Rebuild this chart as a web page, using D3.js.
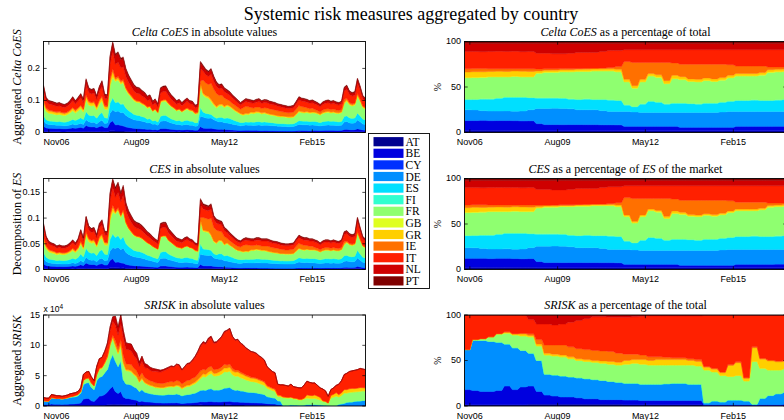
<!DOCTYPE html>
<html><head><meta charset="utf-8">
<script src="https://cdn.jsdelivr.net/npm/d3@7"></script>
<style>
body{margin:0;background:#fff;}
svg{display:block;}
.serif{font-family:"Liberation Serif","Times New Roman",serif;fill:#000;}
.sans{font-family:"Liberation Sans",Arial,sans-serif;fill:#000;}
</style></head>
<body><svg id="chart" width="784" height="420"></svg>
<script>
// ---------- categories ----------
const countries = ["AT","BE","CY","DE","ES","FI","FR","GB","GR","IE","IT","NL","PT"];
const colors = ["#00008f","#0000df","#0030ff","#008fff","#00dfff","#30ffcf","#8fff70","#dfff20","#ffcf00","#ff7000","#ff2000","#cf0000","#800000"];
const xTickLabels = ["Nov06","Aug09","May12","Feb15"];
const xTickDates = [new Date(2006,10,1), new Date(2009,7,1), new Date(2012,4,1), new Date(2015,1,1)];

// ---------- monthly totals (Sep 2006 .. Oct 2016) ----------
const coesTotal = [.148,.110,.100,.098,.095,.092,.094,.090,.088,.092,
 .100,.112,.100,.110,.122,.105,.168,.140,.135,.138,
 .115,.145,.162,.120,.118,.240,.284,.245,.252,.232,
 .236,.200,.180,.165,.150,.142,.140,.132,.126,.114,
 .118,.098,.105,.090,.140,.145,.146,.130,.118,.110,
 .100,.104,.094,.102,.108,.100,.098,.086,.088,.222,
 .210,.198,.192,.200,.176,.158,.150,.152,.140,.134,
 .128,.118,.110,.102,.094,.100,.106,.104,.102,.100,
 .104,.106,.100,.103,.102,.098,.096,.094,.090,.088,
 .086,.084,.082,.083,.085,.098,.112,.108,.106,.104,
 .100,.102,.098,.094,.088,.096,.100,.102,.098,.100,
 .096,.094,.098,.142,.148,.130,.125,.128,.170,.145,
 .115,.108];
const cesTotal = [.090,.065,.055,.052,.050,.046,.048,.046,.046,.048,
 .052,.058,.052,.060,.078,.062,.104,.085,.080,.082,
 .068,.090,.097,.075,.074,.150,.177,.160,.170,.150,
 .164,.130,.115,.105,.096,.092,.090,.086,.080,.074,
 .070,.064,.060,.056,.090,.092,.092,.080,.074,.068,
 .062,.060,.058,.062,.064,.060,.058,.052,.050,.138,
 .128,.126,.124,.128,.105,.098,.096,.094,.082,.078,
 .072,.067,.062,.058,.056,.060,.062,.061,.060,.060,
 .062,.062,.060,.060,.060,.058,.056,.055,.054,.052,
 .051,.050,.050,.051,.052,.060,.067,.064,.062,.062,
 .060,.060,.058,.056,.052,.056,.058,.058,.056,.058,
 .056,.055,.058,.074,.076,.070,.068,.070,.102,.082,
 .064,.060];
// SRISK in units of 10^4
const sriskTotal = [1.4,1.3,1.3,1.9,1.8,1.7,1.7,1.6,1.7,1.8,
 2.0,2.1,2.2,2.4,3.0,5.2,5.6,5.7,4.8,4.2,
 6.5,7.8,8.0,9.0,10.4,13.0,14.7,14.8,13.0,15.0,
 12.5,10.4,10.3,10.2,9.3,8.7,7.2,8.2,7.0,6.8,
 6.4,6.2,6.1,6.0,5.9,6.0,6.2,6.4,6.6,6.5,
 6.9,6.8,6.0,6.5,7.0,7.1,7.6,8.2,9.0,10.0,
 10.6,10.4,11.2,11.5,10.5,10.6,11.0,11.5,12.3,12.5,
 12.8,11.5,10.9,11.0,10.4,10.1,9.6,9.3,9.0,8.9,
 8.7,8.3,8.0,7.6,6.5,6.1,5.7,5.5,3.6,3.5,
 3.5,3.4,3.3,3.6,3.2,3.1,3.0,3.0,3.5,4.1,
 3.9,3.8,3.8,3.4,3.0,2.8,2.5,1.6,2.7,3.0,
 3.4,3.6,4.2,5.2,5.4,5.7,5.8,5.9,6.0,6.2,
 6.1,6.0];

// ---------- quarterly country shares (%) ----------
// Celta CoES
const coesAT = [2.2,2.2,2.1,2.2,2.2,2.3,2.2,2.2,2.2,2.0,2.0,2.0,2.0,2.0,2.0,2.0,1.9,1.9,1.9,1.9,1.8,1.8,1.8,1.8,1.8,1.8,1.8,1.8,1.8,1.8,1.8,1.8,1.8,1.8,1.8,1.8,1.8,1.8,1.8,1.8,1.8];
const coesBE = [10.8,10.8,11.0,10.6,10.8,10.7,10.6,10.4,10.5,7.5,6.5,6.5,6.4,6.5,6.5,6.4,6.5,6.4,6.4,6.3,4.7,4.7,4.7,4.7,4.7,4.7,4.7,3.7,3.7,3.7,3.7,3.7,3.7,3.7,4.7,4.7,4.7,4.7,4.7,4.9,4.9];
const coesCY = [.3,.3,.3,.3,.3,.3,.3,.3,.3,.3,.3,.3,.3,.3,.3,.3,.3,.3,.3,.3,.3,.3,.3,.3,.3,.3,.3,.3,.3,.3,.3,.3,.3,.3,.3,.3,.3,.3,.3,.3,.3];
const coesDE = [11.7,11.5,10.6,10.4,10.2,10.4,10.2,10.6,12.0,16.7,17.7,17.9,17.8,17.2,16.2,16.3,16.3,15.4,14.4,14.5,16.2,15.7,15.2,15.2,15.2,15.2,15.2,16.2,16.2,16.2,16.2,16.2,16.7,17.2,16.2,16.2,16.2,16.2,16.2,16.0,16.0];
const coesES = [11,11.3,12.5,13,14,14.8,15.2,15,13,11.2,11.2,11,11,10.5,11,11.5,11,12,12.5,12,7,5.5,9,12,11,9,10,10,9.5,9,10,10,10.5,11,12,12,12.5,12,12,12.5,13];
const coesFI = [.5,.5,.5,.5,.5,.5,.5,.5,.5,.5,.5,.5,.5,.5,.5,.5,.5,.5,.5,.5,.5,.5,.5,.5,.5,.5,.5,.5,.5,.5,.5,.5,.5,.5,.5,.5,.5,.5,.5,.5,.5];
const coesFR = [23.5,23.6,23.5,24,23,22,22.5,22,22.5,26.8,27.8,27.8,28.5,29.5,30.5,30,31,31,31.5,31,25,20,24,27.5,27,22,26.5,25.5,24,24,24.5,23.5,24,25.5,26.5,26.5,26,27.5,30.5,30.5,30.5];
const coesGB = [.4,.4,.4,.4,.4,.4,.4,.4,.4,.4,.4,.4,.4,.4,.4,.4,.4,.4,.4,.4,.4,.4,.4,.4,.4,.4,.4,.4,.4,.4,.4,.4,.4,.4,.4,.4,.4,.4,.4,.4,.4];
const coesGR = [6,6.2,5.8,5.6,5.8,5.6,5.6,5.8,5.6,2.2,2,2.1,2,2,2,2.2,2,2.1,2.1,2.5,2.5,2.5,2.5,2.5,2.5,3,3.5,3,2.5,2.5,2.5,2.5,2.5,2.5,2.5,2.5,2.5,2.5,2.5,2.5,2.5];
const coesIE = [3.6,3.4,3.5,3,2.8,3,2.5,2.8,3,2.2,1.6,1.5,1.3,1.3,1,1,1,1,1.5,3,19.6,25.6,18.6,12.1,13.6,20.1,13.6,13.6,16.1,16.6,15.1,16.1,14.6,11.6,8.1,8.1,8.1,7.1,3.1,2.6,2.1];
const coesIT = [19,18.8,18.6,19,19.2,19,19.2,18.8,19,17.2,17,16.5,16.3,16.8,17.6,17.4,17.1,18,18.5,17.6,13,14,14,14,14,14,14.5,16,16,16,16,16,16,16.5,18,18,18,18,19,19,19];
const coesNL = [9,9,9.2,9,8.8,9,8.8,9.2,9,11,11,11.5,11.5,11,10,10,10,9,8,8,7,7,7,7,7,7,7,7,7,7,7,7,7,7,7,7,7,7,7,7,7];
const coesPT = [2,2,2,2,2,2,2,2,2,2,2,2,2,2,2,2,2,2,2,2,2,2,2,2,2,2,2,2,2,2,2,2,2,2,2,2,2,2,2,2,2];
// CES
const cesAT = [2.2,2.2,2.1,2.2,2.2,2.3,2.2,2.2,2.2,2.0,2.0,2.0,2.0,2.0,2.0,2.0,1.9,1.9,1.9,1.9,1.8,1.8,1.8,1.8,1.8,1.8,1.8,1.8,1.8,1.8,1.8,1.8,1.8,1.8,1.8,1.8,1.8,1.8,1.8,1.8,1.8];
const cesBE = [9.8,9.8,10.0,9.6,9.8,9.7,9.6,9.4,9.5,6.5,5.5,5.5,5.4,5.5,5.5,5.4,5.5,5.4,5.4,5.3,3.7,3.7,3.7,3.7,3.7,3.7,3.7,2.7,2.7,2.7,2.7,2.7,2.7,2.7,3.7,3.7,3.7,3.7,3.7,3.9,3.9];
const cesCY = [.3,.3,.3,.3,.3,.3,.3,.3,.3,.3,.3,.3,.3,.3,.3,.3,.3,.3,.3,.3,.3,.3,.3,.3,.3,.3,.3,.3,.3,.3,.3,.3,.3,.3,.3,.3,.3,.3,.3,.3,.3];
const cesDE = [11.7,11.5,10.6,10.4,10.2,10.4,10.2,10.6,12.0,16.7,17.7,17.9,17.8,17.2,16.2,16.3,16.3,15.4,14.4,14.5,16.2,15.7,15.2,15.2,15.2,15.2,15.2,16.2,16.2,16.2,16.2,16.2,16.7,17.2,16.2,16.2,16.2,16.2,16.2,16.0,16.0];
const cesES = [13,13.3,14.5,15,16,16.8,17.2,17,15,13.2,13.2,13,13,12.5,13,13.5,13,14,14.5,14,9,7.5,11,14,13,11,12,12,11.5,11,12,12,12.5,13,14,14,14.5,14,14,14.5,15];
const cesFI = [.5,.5,.5,.5,.5,.5,.5,.5,.5,.5,.5,.5,.5,.5,.5,.5,.5,.5,.5,.5,.5,.5,.5,.5,.5,.5,.5,.5,.5,.5,.5,.5,.5,.5,.5,.5,.5,.5,.5,.5,.5];
const cesFR = [25,25.1,25,25.5,24.5,23.5,24,23.5,24,28.3,29.3,29.3,30,31,32,31.5,32.5,32.5,33,32.5,26.5,21.5,25.5,29,28.5,23.5,28,27,25.5,25.5,26,25,25.5,27,28,28,27.5,29,32,32,32];
const cesGB = [.4,.4,.4,.4,.4,.4,.4,.4,.4,.4,.4,.4,.4,.4,.4,.4,.4,.4,.4,.4,.4,.4,.4,.4,.4,.4,.4,.4,.4,.4,.4,.4,.4,.4,.4,.4,.4,.4,.4,.4,.4];
const cesGR = [5,5.2,4.8,4.6,4.8,4.6,4.6,4.8,4.6,1.2,1,1.1,1,1,1,1.2,1,1.1,1.1,1.5,1.5,1.5,1.5,1.5,1.5,2,2.5,2,1.5,1.5,1.5,1.5,1.5,1.5,1.5,1.5,1.5,1.5,1.5,1.5,1.5];
const cesIE = [3.1,2.9,3,2.5,2.3,2.5,2,2.3,2.5,1.7,1.1,1,.8,.8,.5,.5,.5,.5,1,2.5,19.1,25.1,18.1,11.6,13.1,19.6,13.1,13.1,15.6,16.1,14.6,15.6,14.1,11.1,7.6,7.6,7.6,6.6,2.6,2.1,1.6];
const cesIT = [19,18.8,18.6,19,19.2,19,19.2,18.8,19,17.2,17,16.5,16.3,16.8,17.6,17.4,17.1,18,18.5,17.6,13,14,14,14,14,14,14.5,16,16,16,16,16,16,16.5,18,18,18,18,19,19,19];
const cesNL = [8,8,8.2,8,7.8,8,7.8,8.2,8,10,10,10.5,10.5,10,9,9,9,8,7,7,6,6,6,6,6,6,6,6,6,6,6,6,6,6,6,6,6,6,6,6,6];
const cesPT = [2,2,2,2,2,2,2,2,2,2,2,2,2,2,2,2,2,2,2,2,2,2,2,2,2,2,2,2,2,2,2,2,2,2,2,2,2,2,2,2,2];
// SRISK
const sriskAT = [1.5,1.5,1.5,1.5,1.5,1.5,1.5,1.5,2,2,2,2,2,2,2,2,2,2,2,2,1.5,1.5,1.5,1.5,1.5,1.5,1.5,1.5,1.5,1.5,.5,.5,.5,.5,.5,.5,.5,.5,.5,.5,.5];
const sriskBE = [16.5,15.5,14.5,14.5,15.5,20.5,16.5,19.5,20,14,10,9,8,8,7,6,6,5,5,5,5,5,4.5,4.5,4.5,4.5,4.5,4.5,4.5,4.5,1,1,1,1,1,1,.5,1,1,1,1.5];
const sriskCY = [0,0,0,0,0,0,0,0,0,0,0,0,0,0,0,0,0,0,0,0,0,0,0,0,0,0,0,0,0,0,0,0,0,0,0,0,0,0,0,0,0];
const sriskDE = [44,55,56,55,53,46,46,40,36,34,23,23,23,22,22,22,21,21,20,19,18.5,18.5,18,18,18,18.5,19,19,18,18,2,4,3,5,5,4,1,7,10,12,13];
const sriskES = [0,0,0,0,0,0,0,0,0,0,0,0,0,0,0,0,0,0,0,0,0,0,0,0,0,0,0,0,0,0,0,0,0,0,0,0,0,0,0,0,0];
const sriskFI = [0,0,0,0,0,0,0,0,0,0,0,0,0,0,0,0,0,0,0,0,0,0,0,0,0,0,0,0,0,0,0,0,0,0,0,0,0,0,0,0,0];
const sriskFR = [0,1,2,5,9,12,14,16,18,16,21,21,21,20,19,19,19,19,19,19,21,22,22,21,21,20.5,20,20,21,20,36,32,29,26,27,22,47,33,28,26,26];
const sriskGB = [0,0,0,0,0,0,0,0,0,0,0,0,0,0,0,0,0,0,0,0,0,0,0,0,0,0,0,0,0,0,0,0,0,0,0,0,0,0,0,0,0];
const sriskGR = [0,0,0,0,.5,1,1,2,1.5,2,2,2,2,2,2,2,2,2.5,3,3,4,4,5,5,6,6,6,6,5,5,3,3,3,12,14,3,15,10,10,9,8];
const sriskIE = [0,0,0,0,0,.5,.5,1,2,5,9,10,11,11,11,11,11,11,11,10,7,6,5,4,3,2.5,2,2,2,2,1,1,1,1,1,.5,1,1,1,1,1];
const sriskIT = [38,27,26,24,20.5,18.5,20.5,20,15.5,17,23,22,23,27,31,34,37,37.5,37.5,39.5,40.5,41,42.5,45,45,45.5,46,46,47,48,56,58,62,54,51,68.5,34.5,47,49,50,49.5];
const sriskNL = [0,0,0,0,0,0,0,0,5,10,10,11,10,8,6,4,2,2,2.5,2.5,2.5,2,1.5,1,1,1,1,1,1,1,.5,.5,.5,.5,.5,.5,.5,.5,.5,.5,.5];
const sriskPT = [0,0,0,0,0,0,0,0,0,0,0,0,0,0,0,0,0,0,0,0,0,0,0,0,0,0,0,0,0,0,0,0,0,0,0,0,0,0,0,0,0];

const coesShares = [coesAT,coesBE,coesCY,coesDE,coesES,coesFI,coesFR,coesGB,coesGR,coesIE,coesIT,coesNL,coesPT];
const cesShares = [cesAT,cesBE,cesCY,cesDE,cesES,cesFI,cesFR,cesGB,cesGR,cesIE,cesIT,cesNL,cesPT];
const sriskShares = [sriskAT,sriskBE,sriskCY,sriskDE,sriskES,sriskFI,sriskFR,sriskGB,sriskGR,sriskIE,sriskIT,sriskNL,sriskPT];

// ---------- build tables ----------
const months = d3.range(coesTotal.length).map(m => new Date(2006, 8 + m, 1));
function buildRows(total, shares, percent) {
  return total.map((t, m) => {
    const q = Math.min(Math.floor(m / 3), shares[0].length - 1);
    const s = shares.map(a => a[q]);
    const sum = d3.sum(s);
    const row = {date: months[m]};
    countries.forEach((c, i) => row[c] = (percent ? 100 : t) * s[i] / sum);
    return row;
  });
}

// ---------- layout ----------
const svg = d3.select("#chart");
const W = 322, H = 91;
const colX = [43.5, 464.5];
const rowY = [41.5, 178.5, 315];
const x = d3.scaleTime().domain([months[0], months[months.length - 1]]);
const stack = d3.stack().keys(countries);

svg.append("text").attr("class","serif").attr("x",411).attr("y",20)
  .attr("text-anchor","middle").style("font-size","18px")
  .text("Systemic risk measures aggregated by country");

function richText(sel, parts) {
  parts.forEach(p => {
    sel.append("tspan").style("font-style", p.i ? "italic" : "normal").text(p.t);
  });
}

let clipId = 0;
function panel(cfg) {
  const x0 = colX[cfg.col], y0 = rowY[cfg.row];
  const g = svg.append("g").attr("transform", `translate(${x0},${y0})`);
  const xs = x.copy().range([0, W]);
  const ys = d3.scaleLinear().domain([0, cfg.ymax]).range([H, 0]);
  const id = "clip" + (clipId++);
  g.append("clipPath").attr("id", id).append("rect").attr("width", W).attr("height", H);
  const series = stack(cfg.rows);
  const area = d3.area().x(d => xs(d.data.date)).y0(d => ys(d[0])).y1(d => ys(d[1]));
  g.append("g").attr("clip-path", `url(#${id})`).selectAll("path").data(series).join("path")
    .attr("d", area).attr("fill", (d, i) => colors[i]).attr("stroke", (d, i) => colors[i]).attr("stroke-width", 0.4);
  // frame
  g.append("rect").attr("width", W).attr("height", H).attr("fill","none").attr("stroke","#000").attr("stroke-width",0.9);
  // ticks
  const tl = 3.2;
  xTickDates.forEach((d, i) => {
    const px = xs(d);
    g.append("line").attr("x1",px).attr("x2",px).attr("y1",H).attr("y2",H-tl).attr("stroke","#000").attr("stroke-width",0.7);
    g.append("line").attr("x1",px).attr("x2",px).attr("y1",0).attr("y2",tl).attr("stroke","#000").attr("stroke-width",0.7);
    const first = i === 0 && cfg.col === 0;
    g.append("text").attr("class","sans").attr("x", first ? 0 : px).attr("y",H+12.5)
      .attr("text-anchor", first ? "start" : "middle")
      .style("font-size","9px").text(xTickLabels[i]);
  });
  cfg.yticks.forEach(v => {
    const py = ys(v);
    g.append("line").attr("x1",0).attr("x2",tl).attr("y1",py).attr("y2",py).attr("stroke","#000").attr("stroke-width",0.7);
    g.append("line").attr("x1",W).attr("x2",W-tl).attr("y1",py).attr("y2",py).attr("stroke","#000").attr("stroke-width",0.7);
    g.append("text").attr("class","sans").attr("x",-3.5).attr("y",py).attr("dy","0.32em").attr("text-anchor","end")
      .style("font-size","9px").text(cfg.yfmt(v));
  });
  // title
  const t = g.append("text").attr("class","serif").attr("x",W/2).attr("y",-6).attr("text-anchor","middle").style("font-size","12px");
  richText(t, cfg.title);
  // y label
  const yl = g.append("text").attr("class","serif").attr("text-anchor","middle")
    .attr("transform", `translate(${cfg.ylabX},${H/2}) rotate(-90)`).style("font-size", cfg.ylabSize || "12px");
  richText(yl, cfg.ylabel);
  return g;
}

const fmt = v => String(v);
panel({col:0,row:0,rows:buildRows(coesTotal,coesShares,false),ymax:d3.max(coesTotal),yticks:[0,0.1,0.2],yfmt:fmt,
  title:[{t:"Celta CoES",i:true},{t:" in absolute values"}], ylabel:[{t:"Aggregated "},{t:"Celta CoES",i:true}], ylabX:-23});
panel({col:0,row:1,rows:buildRows(cesTotal,cesShares,false),ymax:d3.max(cesTotal),yticks:[0,0.05,0.1,0.15],yfmt:fmt,
  title:[{t:"CES",i:true},{t:" in absolute values"}], ylabel:[{t:"Decomposition of "},{t:"ES",i:true}], ylabX:-23});
const g3 = panel({col:0,row:2,rows:buildRows(sriskTotal,sriskShares,false),ymax:d3.max(sriskTotal),yticks:[0,5,10,15],yfmt:fmt,
  title:[{t:"SRISK",i:true},{t:" in absolute values"}], ylabel:[{t:"Aggregated "},{t:"SRISK",i:true}], ylabX:-23});
const ex = g3.append("text").attr("class","sans").attr("x",0).attr("y",-3).style("font-size","8.5px");
ex.append("tspan").text("x 10");
ex.append("tspan").attr("dy",-3.5).style("font-size","6.5px").text("4");

panel({col:1,row:0,rows:buildRows(coesTotal,coesShares,true),ymax:100,yticks:[0,50,100],yfmt:fmt,
  title:[{t:"Celta CoES",i:true},{t:" as a percentage of total"}], ylabel:[{t:"%"}], ylabX:-24, ylabSize:"10px"});
panel({col:1,row:1,rows:buildRows(cesTotal,cesShares,true),ymax:100,yticks:[0,50,100],yfmt:fmt,
  title:[{t:"CES",i:true},{t:" as a percentage of "},{t:"ES",i:true},{t:" of the market"}], ylabel:[{t:"%"}], ylabX:-24, ylabSize:"10px"});
panel({col:1,row:2,rows:buildRows(sriskTotal,sriskShares,true),ymax:100,yticks:[0,50,100],yfmt:fmt,
  title:[{t:"SRISK",i:true},{t:" as a percentage of the total"}], ylabel:[{t:"%"}], ylabX:-24, ylabSize:"10px"});

// ---------- legend ----------
const lg = svg.append("g").attr("transform","translate(368.5,133.5)");
lg.append("rect").attr("width",61).attr("height",155).attr("fill","#fff").attr("stroke","#000").attr("stroke-width",0.9);
countries.forEach((c, i) => {
  const cy = 8.2 + i * 11.6;
  lg.append("rect").attr("x",5).attr("y",cy-4.6).attr("width",30).attr("height",9.2).attr("fill",colors[i]);
  lg.append("text").attr("class","serif").attr("x",37).attr("y",cy).attr("dy","0.35em").style("font-size","11.5px").text(c);
});
</script>
</body></html>
